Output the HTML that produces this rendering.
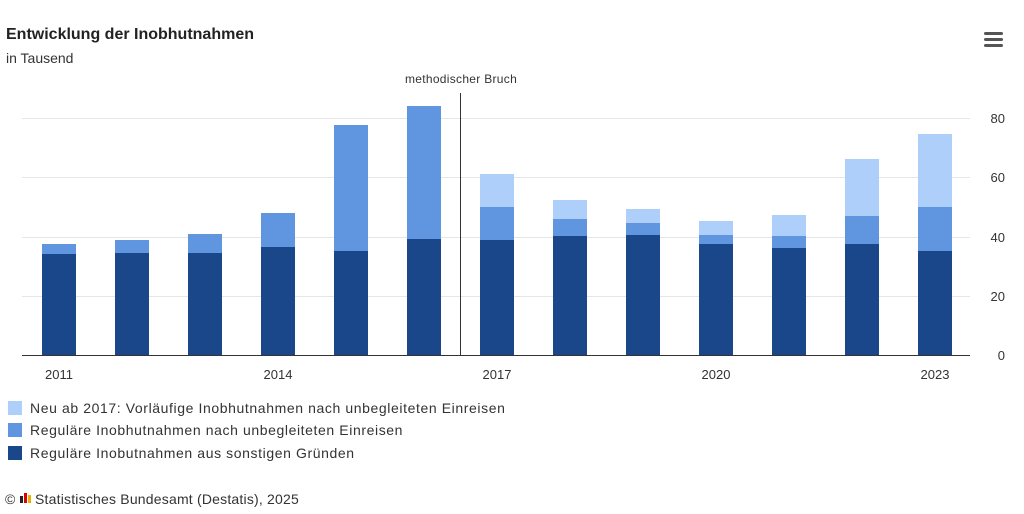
<!DOCTYPE html>
<html><head><meta charset="utf-8"><style>
body{margin:0;background:#fff;width:1024px;height:509px;overflow:hidden;font-family:"Liberation Sans",sans-serif}
</style></head><body>
<svg width="1024" height="509" xmlns="http://www.w3.org/2000/svg" font-family="Liberation Sans, sans-serif">
<text x="6" y="39" font-size="16" font-weight="bold" fill="#222">Entwicklung der Inobhutnahmen</text>
<text x="6" y="63" font-size="14" fill="#333">in Tausend</text>
<g fill="#555"><rect x="984" y="32" width="19" height="3" rx="1.5"/><rect x="984" y="38" width="19" height="3" rx="1.5"/><rect x="984" y="44" width="19" height="3" rx="1.5"/></g>
<g stroke="#e6e6e6" stroke-width="1">
<line x1="22" x2="970" y1="118.5" y2="118.5"/><line x1="22" x2="970" y1="177.5" y2="177.5"/><line x1="22" x2="970" y1="237.5" y2="237.5"/><line x1="22" x2="970" y1="296.5" y2="296.5"/>
</g>
<g font-size="13" fill="#333" text-anchor="end">
<text x="1005" y="123">80</text><text x="1005" y="182">60</text><text x="1005" y="242">40</text><text x="1005" y="301">20</text><text x="1005" y="360">0</text>
</g>
<g id="bars">
<rect x="42" y="244" width="34" height="10" fill="#6096e0"/><rect x="42" y="254" width="34" height="101" fill="#1a4789"/>
<rect x="115" y="240" width="34" height="13" fill="#6096e0"/><rect x="115" y="253" width="34" height="102" fill="#1a4789"/>
<rect x="188" y="234" width="34" height="19" fill="#6096e0"/><rect x="188" y="253" width="34" height="102" fill="#1a4789"/>
<rect x="261" y="213" width="34" height="34" fill="#6096e0"/><rect x="261" y="247" width="34" height="108" fill="#1a4789"/>
<rect x="334" y="125" width="34" height="126" fill="#6096e0"/><rect x="334" y="251" width="34" height="104" fill="#1a4789"/>
<rect x="407" y="106" width="34" height="133" fill="#6096e0"/><rect x="407" y="239" width="34" height="116" fill="#1a4789"/>
<rect x="480" y="174" width="34" height="33" fill="#aecffa"/><rect x="480" y="207" width="34" height="33" fill="#6096e0"/><rect x="480" y="240" width="34" height="115" fill="#1a4789"/>
<rect x="553" y="200" width="34" height="19" fill="#aecffa"/><rect x="553" y="219" width="34" height="17" fill="#6096e0"/><rect x="553" y="236" width="34" height="119" fill="#1a4789"/>
<rect x="626" y="209" width="34" height="14" fill="#aecffa"/><rect x="626" y="223" width="34" height="12" fill="#6096e0"/><rect x="626" y="235" width="34" height="120" fill="#1a4789"/>
<rect x="699" y="221" width="34" height="14" fill="#aecffa"/><rect x="699" y="235" width="34" height="9" fill="#6096e0"/><rect x="699" y="244" width="34" height="111" fill="#1a4789"/>
<rect x="772" y="215" width="34" height="21" fill="#aecffa"/><rect x="772" y="236" width="34" height="12" fill="#6096e0"/><rect x="772" y="248" width="34" height="107" fill="#1a4789"/>
<rect x="845" y="159" width="34" height="57" fill="#aecffa"/><rect x="845" y="216" width="34" height="28" fill="#6096e0"/><rect x="845" y="244" width="34" height="111" fill="#1a4789"/>
<rect x="918" y="134" width="34" height="73" fill="#aecffa"/><rect x="918" y="207" width="34" height="44" fill="#6096e0"/><rect x="918" y="251" width="34" height="104" fill="#1a4789"/>
</g>
<line x1="22" x2="970" y1="355.5" y2="355.5" stroke="#333" stroke-width="1"/>
<line x1="460.5" x2="460.5" y1="93" y2="355" stroke="#333" stroke-width="1"/>
<text x="461" y="83" font-size="12" fill="#333" text-anchor="middle" letter-spacing="0.3">methodischer Bruch</text>
<g font-size="13" fill="#333" text-anchor="middle">
<text x="59" y="379">2011</text><text x="278" y="379">2014</text><text x="497" y="379">2017</text><text x="716" y="379">2020</text><text x="935" y="379">2023</text>
</g>
<g font-size="14" fill="#333" letter-spacing="0.6">
<rect x="8" y="401" width="14" height="14" fill="#aecffa"/><text x="30" y="413">Neu ab 2017: Vorläufige Inobhutnahmen nach unbegleiteten Einreisen</text>
<rect x="8" y="423" width="14" height="14" fill="#6096e0"/><text x="30" y="435">Reguläre Inobhutnahmen nach unbegleiteten Einreisen</text>
<rect x="8" y="446" width="14" height="14" fill="#1a4789"/><text x="30" y="458">Reguläre Inobutnahmen aus sonstigen Gründen</text>
</g>
<text x="5" y="504" font-size="14" fill="#333">©</text>
<rect x="20" y="496" width="3" height="7" fill="#222"/><rect x="24" y="493" width="3" height="10" fill="#d00"/><rect x="28" y="495" width="3" height="8" fill="#e8b000"/>
<text x="35" y="504" font-size="14" fill="#333" letter-spacing="0.2">Statistisches Bundesamt (Destatis), 2025</text>
</svg>
</body></html>
